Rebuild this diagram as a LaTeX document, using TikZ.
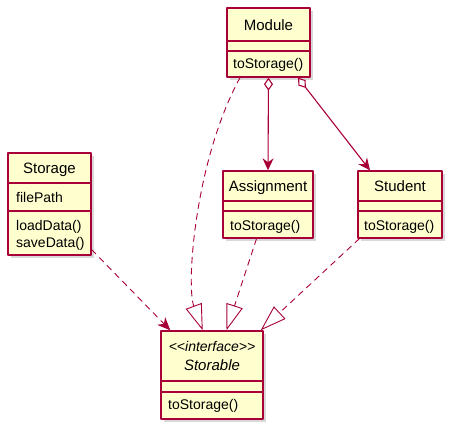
\documentclass[tikz,border=0pt]{standalone}
\usepackage{fontspec}
\usepackage{tikz}
\usetikzlibrary{positioning,calc,arrows.meta,shadows}
\newfontfamily\umlfont{Liberation Sans}
\definecolor{umlred}{HTML}{A80036}
\definecolor{umlfill}{HTML}{FEFECE}

\begin{document}
\begin{tikzpicture}[x=1pt,y=-1pt, font=\umlfont\fontsize{14}{16}\selectfont, line cap=round, line join=round]
				\useasboundingbox (0,0) rectangle (458,435);
				
				% ===== style =====
				\tikzset{
					cls/.style={draw=umlred, fill=umlfill, line width=1.4pt, inner sep=0pt,
						drop shadow={opacity=0.3, shadow xshift=3pt, shadow yshift=-3pt}},
					sepline/.style={draw=umlred, line width=1.2pt},
					ttl/.style={anchor=base, inner sep=0pt, font=\umlfont\fontsize{15}{17}\selectfont},
					mem/.style={anchor=base west, inner sep=0pt},
					agg/.style={draw=umlred, line width=1.1pt,
						{Diamond[fill=white, length=13pt, width=9pt]}-{Stealth[length=12pt, width=11pt, inset=4pt]}},
					impl/.style={draw=umlred, line width=0.9pt, dash pattern=on 6pt off 5pt,
						-{Triangle[fill=white, length=26pt, width=17pt]}},
					dep/.style={draw=umlred, line width=0.9pt, dash pattern=on 6pt off 5pt,
						-{Stealth[length=13pt, width=11pt, inset=4pt]}}
				}
				
				% ===== Module =====
				\node[cls, minimum width=83pt, minimum height=69pt] (module) at (268.5,42.5) {};
				\draw[sepline] (227,41) -- (310,41);
				\draw[sepline] (227,51) -- (310,51);
				\node[ttl] (moduleT) at (268.5,30.7) {Module};
				\node[mem] (moduleM) at (233,69) {toStorage()};
				
				% ===== Storage =====
				\node[cls, minimum width=83pt, minimum height=102pt] (storage) at (49.5,204) {};
				\draw[sepline] (8,183) -- (91,183);
				\draw[sepline] (8,211) -- (91,211);
				\node[ttl] (storageT) at (49.5,174) {Storage};
				\node[mem] (storageA) at (16,202.7) {filePath};
				\node[mem] (storageM1) at (16,231) {loadData()};
				\node[mem] (storageM2) at (16,248) {saveData()};
				
				% ===== Assignment =====
				\node[cls, minimum width=90pt, minimum height=67pt] (assignment) at (268,204.5) {};
				\draw[sepline] (223,201) -- (313,201);
				\draw[sepline] (223,211) -- (313,211);
				\node[ttl] (assignmentT) at (268,191.7) {Assignment};
				\node[mem] (assignmentM) at (230,231) {toStorage()};
				
				% ===== Student =====
				\node[cls, minimum width=84pt, minimum height=67pt] (student) at (400,204.5) {};
				\draw[sepline] (358,201) -- (442,201);
				\draw[sepline] (358,211) -- (442,211);
				\node[ttl] (studentT) at (400,191.7) {Student};
				\node[mem] (studentM) at (364,231) {toStorage()};
				
				% ===== Storable (interface) =====
				\node[cls, minimum width=102pt, minimum height=88pt] (storable) at (212,375) {};
				\draw[sepline] (161,381) -- (263,381);
				\draw[sepline] (161,392) -- (263,392);
				\node[ttl, font=\umlfont\itshape\fontsize{14}{16}\selectfont] (storableS) at (212,351.7) {<<interface>>};
				\node[ttl, font=\umlfont\itshape\fontsize{15}{17}\selectfont] (storableT) at (212,371) {Storable};
				\node[mem] (storableM) at (168,410) {toStorage()};
				
				% ===== quan he =====
				\draw[agg] (module.south) -- (assignment.north);
				\draw[agg] ($(module.south)+(29.5,0)$) -- ($(student.north)+(-30,0)$);
				\draw[impl] ($(module.south)+(-28.5,0)$) .. controls (195,160) and (186,285) .. ($(storable.north)+(-9.3,0)$);
				\draw[impl] ($(assignment.south)+(-11.5,0)$) -- ($(storable.north)+(14.5,0)$);
				\draw[impl] ($(student.south west)+(2,0)$) -- ($(storable.north east)+(-3,0)$);
				\draw[dep] ($(storage.south east)+(0,-6)$) -- ($(storable.north west)+(10,0)$);
			\end{tikzpicture}
\end{document}
